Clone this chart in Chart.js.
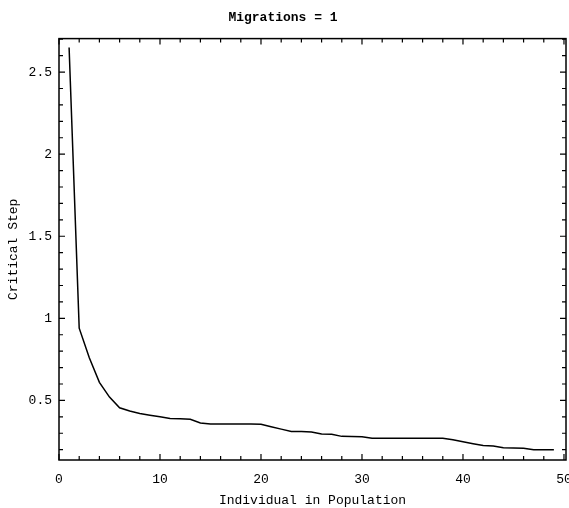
<!DOCTYPE html>
<html lang="en">
<head>
  <meta charset="UTF-8">
  <title>Migrations = 1</title>
  <style>
    body {
      margin: 0;
      padding: 0;
      background-color: #fff;
    }
    #chartContainer {
      display: block;
    }
  </style>
</head>
<body>
  <canvas id="chartContainer" width="569" height="508"></canvas>

  <script src="https://cdn.jsdelivr.net/npm/chart.js"></script>
  <script>
    // data
    const individuals = [1, 2, 3, 4, 5, 6, 7, 8, 9, 10, 11, 12, 13, 14, 15, 16, 17, 18, 19, 20,
      21, 22, 23, 24, 25, 26, 27, 28, 29, 30, 31, 32, 33, 34, 35, 36, 37, 38, 39, 40,
      41, 42, 43, 44, 45, 46, 47, 48, 49];
    const criticalStep = [2.65, 0.94, 0.76, 0.61, 0.52, 0.455, 0.435, 0.42, 0.41, 0.40,
      0.39, 0.388, 0.385, 0.362, 0.356, 0.356, 0.356, 0.356, 0.356, 0.355,
      0.34, 0.325, 0.31, 0.31, 0.308, 0.296, 0.294, 0.281, 0.28, 0.279,
      0.27, 0.27, 0.27, 0.27, 0.27, 0.27, 0.27, 0.27, 0.26, 0.248,
      0.236, 0.225, 0.222, 0.211, 0.21, 0.209, 0.2, 0.2, 0.2];
    const xTicks = [0, 10, 20, 30, 40, 50];
    const yTicks = [0.5, 1, 1.5, 2, 2.5];
    const xMinorStep = 2;
    const yMinorStep = 0.1;

    const monoFont = "'Liberation Mono', 'DejaVu Sans Mono', monospace";

    // mathematica style frame with inward ticks on all four sides
    const framePlugin = {
      id: 'frame',
      afterDraw(chart) {
        const ctx = chart.ctx;
        const area = chart.chartArea;
        const xs = chart.scales.x;
        const ys = chart.scales.y;
        ctx.save();
        ctx.strokeStyle = '#000';
        ctx.lineWidth = 1.5;
        ctx.strokeRect(area.left, area.top, area.right - area.left, area.bottom - area.top);

        ctx.lineWidth = 1.2;
        ctx.beginPath();
        for (let v = 0; v <= xs.max + 1e-9; v += xMinorStep) {
          const px = xs.getPixelForValue(v);
          if (px < area.left || px > area.right) continue;
          const len = (Math.round(v) % 10 === 0) ? 6 : 4;
          ctx.moveTo(px, area.bottom);
          ctx.lineTo(px, area.bottom - len);
          ctx.moveTo(px, area.top);
          ctx.lineTo(px, area.top + len);
        }
        for (let i = 2; i * yMinorStep <= ys.max + 1e-9; i++) {
          const v = i * yMinorStep;
          const py = ys.getPixelForValue(v);
          if (py < area.top || py > area.bottom) continue;
          const len = (i % 5 === 0) ? 6 : 4;
          ctx.moveTo(area.left, py);
          ctx.lineTo(area.left + len, py);
          ctx.moveTo(area.right, py);
          ctx.lineTo(area.right - len, py);
        }
        ctx.stroke();
        ctx.restore();
      }
    };

    function renderChart() {
      const chartContainer = document.getElementById('chartContainer');

      window.myChart = new Chart(chartContainer, {
        type: 'line',
        data: {
          datasets: [{
            label: 'Critical Step',
            data: individuals.map((x, i) => ({ x: x, y: criticalStep[i] })),
            borderColor: '#000',
            borderWidth: 1.5,
            pointRadius: 0,
            tension: 0,
            fill: false
          }]
        },
        options: {
          responsive: false,
          animation: false,
          layout: {
            padding: { left: 0, right: 3, top: 0, bottom: 0 }
          },
          plugins: {
            legend: { display: false },
            tooltip: { enabled: false },
            title: {
              display: true,
              text: 'Migrations = 1',
              color: '#000',
              font: { family: monoFont, size: 13, weight: 'bold' },
              padding: { top: 10, bottom: 13 }
            }
          },
          scales: {
            x: {
              type: 'linear',
              min: 0,
              max: 50.2,
              afterBuildTicks: (scale) => {
                scale.ticks = xTicks.map(v => ({ value: v }));
              },
              afterFit: (scale) => {
                scale.height = 48;
                // let the "50" label run off the edge like the original
                scale.paddingLeft = 0;
                scale.paddingRight = 0;
              },
              grid: { display: false, drawTicks: false },
              border: { display: false },
              ticks: {
                color: '#000',
                padding: 12,
                maxRotation: 0,
                font: { family: monoFont, size: 13 },
                callback: (v) => String(v)
              },
              title: {
                display: true,
                text: 'Individual in Population',
                color: '#000',
                font: { family: monoFont, size: 13 },
                padding: { top: 0, bottom: 0 }
              }
            },
            y: {
              type: 'linear',
              min: 0.137,
              max: 2.704,
              afterBuildTicks: (scale) => {
                scale.ticks = yTicks.map(v => ({ value: v }));
              },
              afterFit: (scale) => {
                scale.width = 59;
              },
              grid: { display: false, drawTicks: false },
              border: { display: false },
              ticks: {
                color: '#000',
                padding: 7,
                font: { family: monoFont, size: 13 },
                callback: (v) => String(v)
              },
              title: {
                display: true,
                text: 'Critical Step',
                color: '#000',
                font: { family: monoFont, size: 13 },
                padding: { top: 6, bottom: 0 }
              }
            }
          }
        },
        plugins: [framePlugin]
      });
    }

    window.onload = function() {
      renderChart();
    };
  </script>
</body>
</html>
